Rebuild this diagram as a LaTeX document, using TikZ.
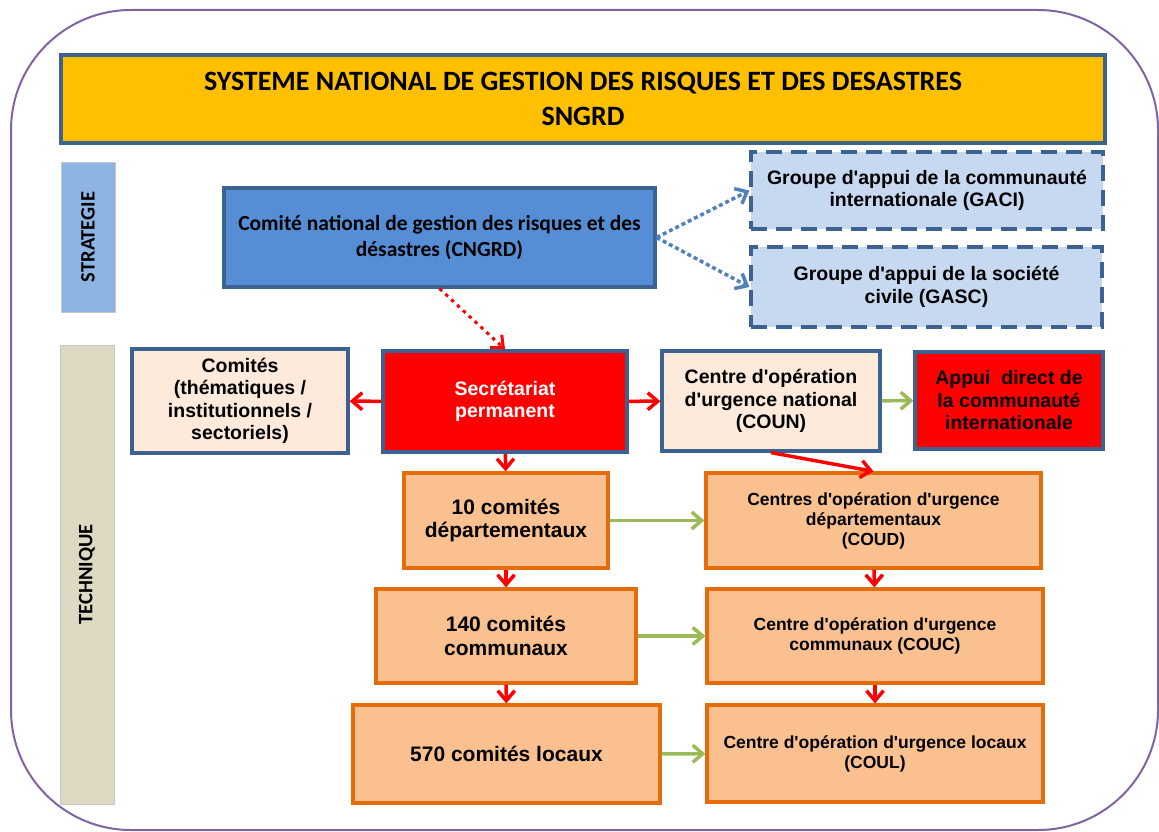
\documentclass[tikz,border=0pt]{standalone}
\usepackage{fontspec}
\setmainfont[Ligatures=TeXOff]{Liberation Sans}
\newfontfamily\calibri{Carlito}
\usepackage{tikz}
\usetikzlibrary{arrows.meta}
\definecolor{cadre}{HTML}{8064A2}
\definecolor{jaune}{HTML}{FFC000}
\definecolor{bordbleu}{HTML}{3D6190}
\definecolor{bleu}{HTML}{558ED5}
\definecolor{bleuclair}{HTML}{C6D9F1}
\definecolor{strat}{HTML}{8EB4E3}
\definecolor{tech}{HTML}{DDD9C3}
\definecolor{rose}{HTML}{FDEADA}
\definecolor{saumon}{HTML}{FAC090}
\definecolor{bordorange}{HTML}{E46C0A}
\definecolor{vert}{HTML}{9BBB59}
\definecolor{pointille}{HTML}{4F81BD}
\definecolor{rouge}{HTML}{FF0000}
\tikzstyle{boite}=[rectangle,draw=bordbleu,line width=3.2pt,align=center,inner sep=0pt]
\tikzstyle{orangebox}=[boite,draw=bordorange,fill=saumon]
\tikzstyle{bande}=[rectangle,draw=black!22,line width=0.8pt,inner sep=0pt]
\tikzstyle{fleche}=[draw,line width=3.5pt,-{Straight Barb[length=10pt,width=17pt]}]

\begin{document}
\begin{tikzpicture}
		[x=1pt,y=-1pt,
		 grand/.style={font=\calibri\bfseries\fontsize{21.5}{26.5}\selectfont},
		 moyen/.style={font=\bfseries\fontsize{19.5}{22.5}\selectfont},
		 gauche/.style={font=\bfseries\fontsize{21}{23.5}\selectfont},
		 droite/.style={font=\bfseries\fontsize{17.5}{20}\selectfont}]
		\useasboundingbox (0,0) rectangle (1159,832);
		\draw[cadre,line width=2pt,rounded corners=120pt] (11,10) rectangle (1158,830);
		
		\node[boite,fill=jaune,minimum width=1044pt,minimum height=88pt,
		  font=\calibri\bfseries\fontsize{28}{35}\selectfont] (titre) at (583,99)
		  {SYSTEME NATIONAL DE GESTION DES RISQUES ET DES DESASTRES\\SNGRD};
		
		\node[bande,fill=strat,minimum width=54pt,minimum height=150pt] (strat) at (88,237) {};
		\node[rotate=90,font=\calibri\bfseries\fontsize{20.5}{24}\selectfont] at (strat.center) {STRATEGIE};
		\node[bande,fill=tech,minimum width=54pt,minimum height=459pt] (tech) at (87,574.5) {};
		\node[rotate=90,font=\calibri\bfseries\fontsize{20.5}{24}\selectfont] at (tech.center) {TECHNIQUE};
		
		\node[boite,fill=bleu,grand,minimum width=431pt,minimum height=99pt] (cngrd) at (439.5,237.5)
		  {Comité national de gestion des risques et des\\désastres (CNGRD)};
		\node[boite,fill=bleuclair,moyen,dash pattern=on 16pt off 9pt,minimum width=352pt,minimum height=77pt] (gaci) at (927,190.5)
		  {Groupe d'appui de la communauté\\internationale (GACI)};
		\node[boite,fill=bleuclair,moyen,dash pattern=on 16pt off 9pt,minimum width=351pt,minimum height=80pt] (gasc) at (926.5,287)
		  {Groupe d'appui de la société\\civile (GASC)};
		
		\node[boite,fill=rose,moyen,minimum width=216pt,minimum height=104pt] (comites) at (240,401)
		  {Comités\\(thématiques /\\institutionnels /\\sectoriels)};
		\node[boite,fill=rouge,moyen,text=white,minimum width=244pt,minimum height=101pt] (sp) at (505,401.5)
		  {Secrétariat\\permanent};
		\node[boite,fill=rose,moyen,minimum width=218pt,minimum height=100pt] (coun) at (771,401)
		  {Centre d'opération\\d'urgence national\\(COUN)};
		\node[boite,fill=rouge,moyen,minimum width=188pt,minimum height=97pt] (appui) at (1009,400.5)
		  {Appui~~direct de\\la communauté\\internationale};
		
		\node[orangebox,gauche,minimum width=204pt,minimum height=95pt] (dep) at (506,520.5)
		  {10 comités\\départementaux};
		\node[orangebox,droite,minimum width=335pt,minimum height=95pt] (coud) at (873.5,520.5)
		  {Centres d'opération d'urgence\\départementaux\\(COUD)};
		\node[orangebox,gauche,minimum width=260pt,minimum height=94pt] (com) at (506,636)
		  {140 comités\\communaux};
		\node[orangebox,droite,minimum width=336pt,minimum height=94pt] (couc) at (875,636)
		  {Centre d'opération d'urgence\\communaux (COUC)};
		\node[orangebox,gauche,minimum width=307pt,minimum height=98pt] (loc) at (506.5,754)
		  {570 comités locaux};
		\node[orangebox,droite,minimum width=336pt,minimum height=97pt] (coul) at (875,753.5)
		  {Centre d'opération d'urgence locaux\\(COUL)};
		
		% pointilles
		\draw[fleche,pointille,dash pattern=on 4pt off 3pt] (cngrd.east) to (gaci.west);
		\draw[fleche,pointille,dash pattern=on 4pt off 3pt] (cngrd.east) to (gasc.west);
		\draw[fleche,rouge,line width=3pt,dash pattern=on 3.5pt off 4.5pt] (cngrd.south) to (sp.north);
		
		\draw[fleche,rouge] (sp) to (comites);
		\draw[fleche,rouge] (sp) to (coun);
		\draw[fleche,vert] (coun) to (appui);
		\draw[fleche,rouge] (coun.south) to (coud.north);
		
		\draw[fleche,rouge] (sp) to (dep);
		\draw[fleche,rouge] (dep) to (com);
		\draw[fleche,rouge] (com) to (loc);
		\draw[fleche,rouge] (coud) to (couc);
		\draw[fleche,rouge] (couc) to (coul);
		
		\draw[fleche,vert] (dep) to (coud);
		\draw[fleche,vert] (com) to (couc);
		\draw[fleche,vert] (loc) to (coul);
		
		\end{tikzpicture}
\end{document}
